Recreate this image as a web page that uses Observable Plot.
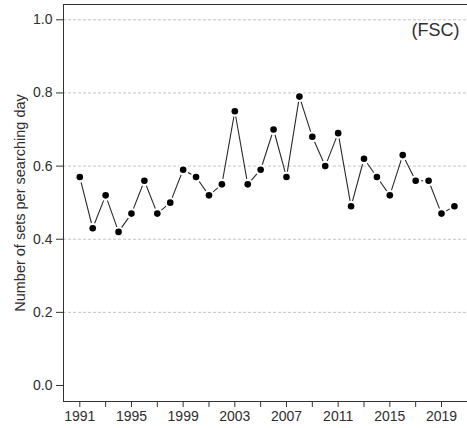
<!DOCTYPE html>
<html>
<head>
<meta charset="utf-8">
<script src="https://cdn.jsdelivr.net/npm/d3@7"></script>
<script src="https://cdn.jsdelivr.net/npm/@observablehq/plot@0.6"></script>
<style>
  html, body { margin: 0; padding: 0; background: white; overflow: hidden; }
</style>
</head>
<body>
<div id="chart"></div>
<script>
const years = d3.range(1991, 2021);
const values = [0.57, 0.43, 0.52, 0.42, 0.47, 0.56, 0.47, 0.50, 0.59, 0.57,
                0.52, 0.55, 0.75, 0.55, 0.59, 0.70, 0.57, 0.79, 0.68, 0.60,
                0.69, 0.49, 0.62, 0.57, 0.52, 0.63, 0.56, 0.56, 0.47, 0.49];
const yTicks = [0, 0.2, 0.4, 0.6, 0.8, 1.0];
const gridValues = [0.2, 0.4, 0.6, 0.8, 1.0];
const xTicks = d3.range(1991, 2020, 2);
const xLabels = [1991, 1995, 1999, 2003, 2007, 2011, 2015, 2019];
const yTitle = "Number of sets per searching day";
const panelLabel = "(FSC)";

const data = years.map((yr, i) => ({year: yr, value: values[i]}));

const chart = Plot.plot({
  width: 467,
  height: 428,
  marginLeft: 63,
  marginTop: 4,
  marginBottom: 27,
  marginRight: 0,
  style: {fontFamily: "'Liberation Sans', Arial, sans-serif", fontSize: "14px", color: "#2e2e2e", background: "white"},
  x: {domain: [1991, 2019], range: [79.3, 441]},
  y: {domain: [0, 1], range: [385, 19.3]},
  marks: [
    Plot.gridY(gridValues, {stroke: "#c4c4c4", strokeOpacity: 1, strokeDasharray: "3,2"}),
    Plot.frame({anchor: "left", stroke: "#333"}),
    Plot.frame({anchor: "top", stroke: "#333"}),
    Plot.frame({anchor: "bottom", stroke: "#333"}),
    Plot.axisY(yTicks, {tickFormat: d3.format(".1f"), tickSize: 7, tickPadding: 4, label: null, stroke: "#333", fontSize: 14}),
    Plot.axisX(xTicks, {tickFormat: d => xLabels.includes(d) ? String(d) : "", tickSize: 6, tickPadding: 4, label: null, stroke: "#333", fontSize: 14}),
    Plot.line(data, {x: "year", y: "value", stroke: "#2a2a2a", strokeWidth: 1.1}),
    Plot.dot(data, {x: "year", y: "value", r: 5.5, fill: "white"}),
    Plot.dot(data, {x: "year", y: "value", r: 3.3, fill: "black"}),
    Plot.text([yTitle], {frameAnchor: "left", rotate: -90, dx: -43, textAnchor: "middle", lineAnchor: "middle", fontSize: 14.5}),
    Plot.text([panelLabel], {frameAnchor: "top-right", dx: -8, dy: 19, textAnchor: "end", lineAnchor: "top", fontSize: 18})
  ]
});
document.getElementById("chart").append(chart);
</script>
</body>
</html>
